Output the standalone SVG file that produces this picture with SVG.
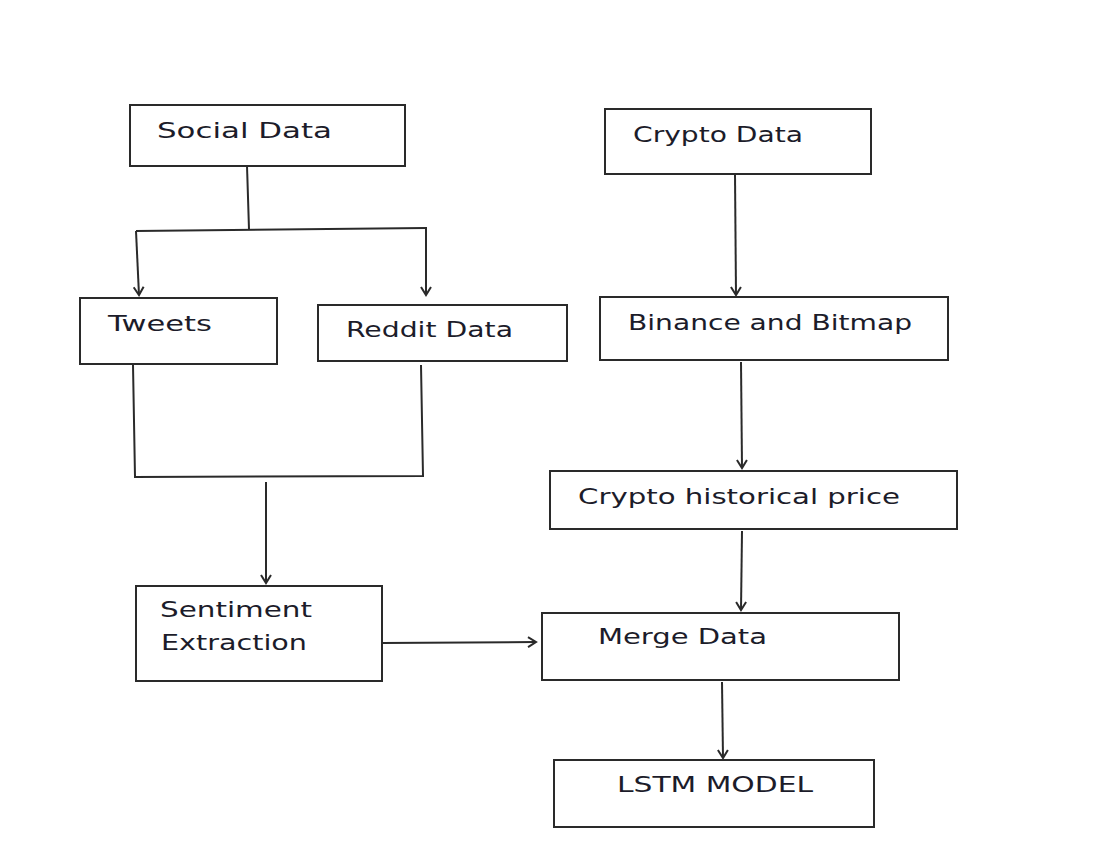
<svg xmlns="http://www.w3.org/2000/svg" width="1099" height="851" viewBox="0 0 1099 851">
<defs>
<style>
.box{fill:#fff;stroke:#2a2a2a;stroke-width:2}
.lbl{font-family:"DejaVu Sans",Verdana,sans-serif;font-size:22px;fill:#1c1c2a}
.ln{fill:none;stroke:#2a2a2a;stroke-width:2}
</style>
<marker id="ah" markerWidth="14" markerHeight="12" refX="10" refY="6" orient="auto" markerUnits="userSpaceOnUse">
<path d="M2,1 L10,6 L2,11" fill="none" stroke="#2a2a2a" stroke-width="2"/>
</marker>
</defs>
<rect width="1099" height="851" fill="#fff"/>
<g id="connectors">
<polyline class="ln" points="247,166 249,229"/>
<polyline class="ln" points="136,231 426,228"/>
<polyline class="ln" points="136,231 139,295" marker-end="url(#ah)"/>
<polyline class="ln" points="426,227 426,295" marker-end="url(#ah)"/>
<polyline class="ln" points="133,365 135,477 423,476 421,365"/>
<polyline class="ln" points="266,482 266,583" marker-end="url(#ah)"/>
<polyline class="ln" points="735,174 736,295" marker-end="url(#ah)"/>
<polyline class="ln" points="741,362 742,468" marker-end="url(#ah)"/>
<polyline class="ln" points="742,531 741,610" marker-end="url(#ah)"/>
<polyline class="ln" points="382,643 536,642" marker-end="url(#ah)"/>
<polyline class="ln" points="722,682 723,758" marker-end="url(#ah)"/>
</g>
<g id="social">
<rect class="box" x="130" y="105" width="275" height="61"/>
<text class="lbl" x="157" y="138" textLength="175" lengthAdjust="spacingAndGlyphs" font-size="23">Social Data</text>
</g>
<g id="crypto">
<rect class="box" x="605" y="109" width="266" height="65"/>
<text class="lbl" x="633" y="142" textLength="170" lengthAdjust="spacingAndGlyphs">Crypto Data</text>
</g>
<g id="tweets">
<rect class="box" x="80" y="298" width="197" height="66"/>
<text class="lbl" x="108" y="331" textLength="104" lengthAdjust="spacingAndGlyphs">Tweets</text>
</g>
<g id="reddit">
<rect class="box" x="318" y="305" width="249" height="56"/>
<text class="lbl" x="346" y="337" textLength="167" lengthAdjust="spacingAndGlyphs">Reddit Data</text>
</g>
<g id="binance">
<rect class="box" x="600" y="297" width="348" height="63"/>
<text class="lbl" x="628" y="330" textLength="284" lengthAdjust="spacingAndGlyphs">Binance and Bitmap</text>
</g>
<g id="history">
<rect class="box" x="550" y="471" width="407" height="58"/>
<text class="lbl" x="578" y="504" textLength="322" lengthAdjust="spacingAndGlyphs">Crypto historical price</text>
</g>
<g id="sentiment">
<rect class="box" x="136" y="586" width="246" height="95"/>
<text class="lbl" x="160" y="617" textLength="152" lengthAdjust="spacingAndGlyphs">Sentiment</text>
<text class="lbl" x="161" y="650" textLength="146" lengthAdjust="spacingAndGlyphs">Extraction</text>
</g>
<g id="merge">
<rect class="box" x="542" y="613" width="357" height="67"/>
<text class="lbl" x="598" y="644" textLength="169" lengthAdjust="spacingAndGlyphs">Merge Data</text>
</g>
<g id="lstm">
<rect class="box" x="554" y="760" width="320" height="67"/>
<text class="lbl" x="617" y="792" textLength="196" lengthAdjust="spacingAndGlyphs">LSTM MODEL</text>
</g>
</svg>
